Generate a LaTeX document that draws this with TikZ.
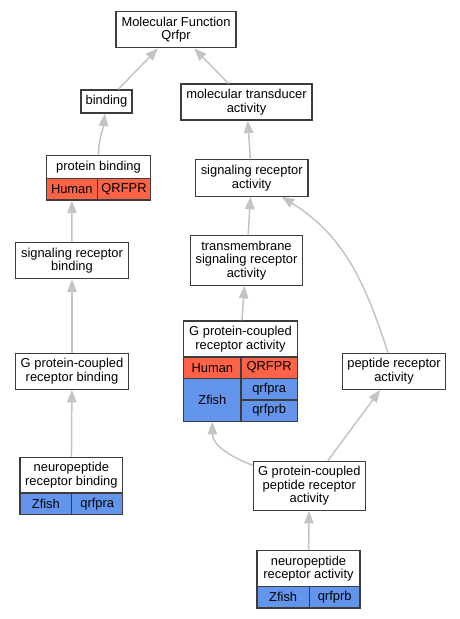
\documentclass[tikz,border=0pt]{standalone}
\usepackage{fontspec}
\setmainfont{Liberation Sans}
\usetikzlibrary{arrows.meta}
\definecolor{boxink}{HTML}{3C3C3C}
\definecolor{edgegrey}{HTML}{C4C4C4}
\definecolor{humred}{HTML}{FF6347}
\definecolor{zfblue}{HTML}{6495ED}
\tikzset{
  go/.style={draw=boxink, line width=1.2pt, fill=white, align=center, inner sep=0pt,
             font=\fontsize{12.9}{13.5}\selectfont},
  go hum/.style={go, fill=humred},
  go zf/.style={go, fill=zfblue},
  go isa/.style={-{Triangle[length=12.5pt, width=9.5pt]}, line width=1.5pt, edgegrey},
}
\begin{document}
\begin{tikzpicture}[x=1pt, y=1pt]
  \useasboundingbox (0,0) rectangle (460,-619);
  % left column: binding branch
  \node[go, minimum width=120, minimum height=36] (mf) at (176,-29.7) {Molecular Function\\Qrfpr};
  \node[go, minimum width=51, minimum height=23] (bind) at (106.5,-101.5) {binding};
  \node[go, minimum width=104.4, minimum height=22.6] (pb) at (98.5,-167) {protein binding};
  \node[go hum, minimum width=51, minimum height=21.7] (pbhum) at (71.8,-189.2) {Human};
  \node[go hum, minimum width=53.4, minimum height=21.7] (pbgene) at (124,-189.2) {QRFPR};
  \node[go, minimum width=112.3, minimum height=36.4] (srb) at (72,-260.5) {signaling receptor\\binding};
  \node[go, minimum width=112.3, minimum height=36] (gpcrb) at (72,-371.3) {G protein-coupled\\receptor binding};
  \node[go, minimum width=102.7, minimum height=35.7] (nrb) at (71.35,-475.15) {neuropeptide\\receptor binding};
  \node[go zf, minimum width=51.7, minimum height=21.7] (nrbzf) at (45.85,-503.85) {Zfish};
  \node[go zf, minimum width=51, minimum height=21.7] (nrbgene) at (97.2,-503.85) {qrfpra};
  % right column: transducer branch
  \node[go, minimum width=131, minimum height=36] (mta) at (246.5,-102) {molecular transducer\\activity};
  \node[go, minimum width=112.7, minimum height=36.3] (sra) at (251.7,-178) {signaling receptor\\activity};
  \node[go, minimum width=112.4, minimum height=49.6] (tsra) at (246.5,-260.5) {transmembrane\\signaling receptor\\activity};
  \node[go, minimum width=113.6, minimum height=36] (gpcra) at (240.5,-339) {G protein-coupled\\receptor activity};
  \node[go hum, minimum width=57.3, minimum height=21.3] (gpcrahum) at (212.35,-367.65) {Human};
  \node[go hum, minimum width=56.3, minimum height=21.3] (gpcragene) at (269.15,-367.65) {QRFPR};
  \node[go zf, minimum width=57.3, minimum height=43] (gpcrazf) at (212.35,-399.8) {Zfish};
  \node[go zf, minimum width=56.3, minimum height=21.7] (gpcraa) at (269.15,-389.15) {qrfpra};
  \node[go zf, minimum width=56.3, minimum height=21.3] (gpcrab) at (269.15,-410.65) {qrfprb};
  \node[go, minimum width=102.6, minimum height=36] (pra) at (394,-371.3) {peptide receptor\\activity};
  \node[go, minimum width=112, minimum height=49] (gpcpra) at (309.3,-485.8) {G protein-coupled\\peptide receptor\\activity};
  \node[go, minimum width=103, minimum height=35.6] (nra) at (308.5,-568.5) {neuropeptide\\receptor activity};
  \node[go zf, minimum width=52.3, minimum height=21.7] (nrazf) at (283.15,-597.15) {Zfish};
  \node[go zf, minimum width=50.7, minimum height=21.7] (nragene) at (334.65,-597.15) {qrfprb};
  % is_a edges, child to parent
  \foreach \a/\b in {bind/mf, mta/mf, srb/pbhum, gpcrb/srb, nrb/gpcrb, sra/mta, tsra/sra, gpcra/tsra, gpcpra/pra, nra/gpcpra}
    \draw[go isa] (\a) -- (\b);
  \draw[go isa] (pb.north) to[out=90, in=-97] (bind);
  \draw[go isa] (pra) to[out=108, in=-32] (sra);
  \draw[go isa] (gpcpra) to[out=160, in=-90] (gpcrazf);
\end{tikzpicture}
\end{document}
